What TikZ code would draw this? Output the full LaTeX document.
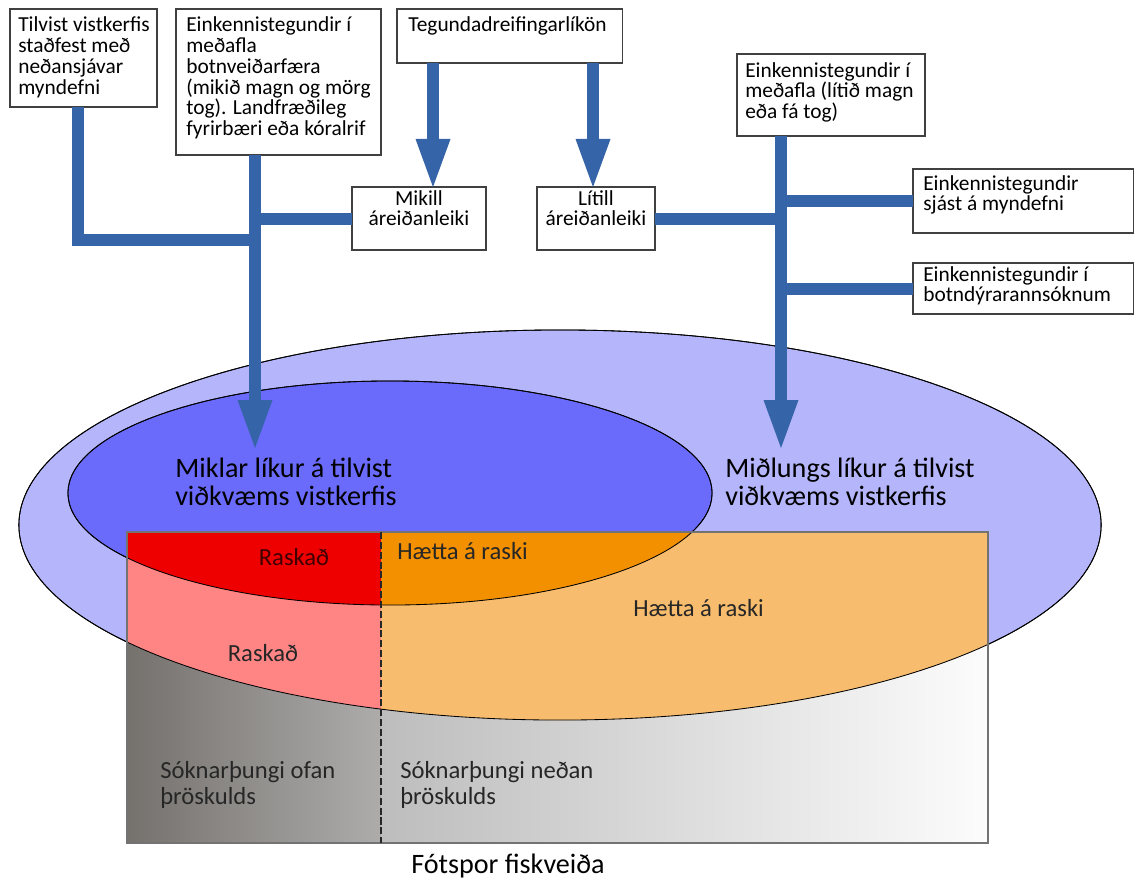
\documentclass[tikz,border=0pt]{standalone}
\usepackage{fontspec}
\setmainfont{Carlito}
\usetikzlibrary{arrows.meta}
\definecolor{flow}{HTML}{3565A8}
\definecolor{outerfill}{HTML}{B4B5FB}
\definecolor{innerfill}{HTML}{6B6BFB}
\definecolor{redfill}{HTML}{EE0000}
\definecolor{orangefill}{HTML}{F39000}
\definecolor{lorange}{HTML}{F7BC6D}
\definecolor{pinkfill}{HTML}{FF8585}
\definecolor{grayA}{HTML}{75716D}
\definecolor{grayB}{HTML}{ADACAB}
\definecolor{grayC}{HTML}{BDBDBD}
\definecolor{grayD}{HTML}{FCFCFC}
\newcommand\hs{\rule{0pt}{1em}}
\begin{document}
\begin{tikzpicture}[x=0.025cm,y=-0.025cm,
  box/.style={draw=black!75,line width=0.8pt,fill=white,inner sep=0pt,outer sep=0pt,anchor=north west},
  btxt/.style={inner sep=0pt,anchor=north west,align=left,font=\fontsize{15.2}{14.8}\selectfont},
  ctxt/.style={inner sep=0pt,anchor=north,align=center,font=\fontsize{15.2}{14.8}\selectfont},
  flowline/.style={draw=flow,line width=0.3cm},
  flowarr/.style={flowline,-{Triangle[width=0.875cm,length=1.2cm,line width=0pt]}},
  bigtxt/.style={inner sep=0pt,anchor=north west,align=left,font=\fontsize{20}{20}\selectfont},
  midtxt/.style={inner sep=0pt,text=black!85,font=\fontsize{17.5}{18.5}\selectfont},
  outline/.style={draw=black,line width=0.6pt},
]
\useasboundingbox (0,0) rectangle (1144,884);
\fill[white] (0,0) rectangle (1144,884);

% ellipses
\path[fill=outerfill,outline] (560,525) ellipse [x radius=13.525cm, y radius=4.875cm];
\path[fill=innerfill,outline] (390,493) ellipse [x radius=8.05cm, y radius=2.8cm];

% footprint rectangle
\shade[left color=grayA,right color=grayB] (127,532) rectangle (381,843);
\shade[left color=grayC,right color=grayD] (381,532) rectangle (988,843);
\begin{scope}
  \clip (560,525) ellipse [x radius=13.525cm, y radius=4.875cm];
  \fill[pinkfill] (127,532) rectangle (381,843);
  \fill[lorange] (381,532) rectangle (988,843);
\end{scope}
\begin{scope}
  \clip (390,493) ellipse [x radius=8.05cm, y radius=2.8cm];
  \fill[redfill] (127,532) rectangle (381,843);
  \fill[orangefill] (381,532) rectangle (988,843);
\end{scope}
\path[outline] (560,525) ellipse [x radius=13.525cm, y radius=4.875cm];
\path[outline] (390,493) ellipse [x radius=8.05cm, y radius=2.8cm];
\draw[black!55,line width=0.8pt] (127,532) rectangle (988,843);
\draw[black!85,line width=0.8pt,dash pattern=on 5pt off 2pt] (381,532) -- (381,843);

% texts in ellipses and rectangle
\node[bigtxt] (tmik) at (175,449) {\hs Miklar líkur á tilvist\\viðkvæms vistkerfis};
\node[bigtxt] (tmid) at (725,449) {\hs Miðlungs líkur á tilvist\\viðkvæms vistkerfis};
\node[midtxt,anchor=base,text=black!75!red] (r1) at (294,565) {Raskað};
\node[midtxt,anchor=base west] (h1) at (397,559) {Hætta á raski};
\node[midtxt,anchor=base west] (h2) at (633,616) {Hætta á raski};
\node[midtxt,anchor=base] (r2) at (263,661) {Raskað};
\node[midtxt,anchor=north west,align=left] (s1) at (160,754) {\hs Sóknarþungi ofan\\þröskulds};
\node[midtxt,anchor=north west,align=left] (s2) at (400,754) {\hs Sóknarþungi neðan\\þröskulds};
\node[inner sep=0pt,anchor=base,font=\fontsize{20}{20}\selectfont] (fot) at (508,873) {Fótspor fiskveiða};

% boxes
\node[box,minimum width=3.675cm,minimum height=2.45cm] (b1) at (10,9) {};
\node[box,minimum width=5.125cm,minimum height=3.65cm] (b2) at (176,9) {};
\node[box,minimum width=5.625cm,minimum height=1.35cm] (teg) at (397,9) {};
\node[box,minimum width=3.35cm,minimum height=1.575cm] (mik) at (352,187) {};
\node[box,minimum width=2.95cm,minimum height=1.575cm] (lit) at (537,187) {};
\node[box,minimum width=4.7cm,minimum height=2.05cm] (rt) at (737,54) {};
\node[box,minimum width=5.5cm,minimum height=1.6cm] (sja) at (913,169) {};
\node[box,minimum width=5.5cm,minimum height=1.275cm] (bot) at (913,263) {};

% connector coordinates
\coordinate (x1) at (78,240);
\coordinate (tipL) at (255,448);
\coordinate (tipR) at (781,448);
\coordinate (xa) at (433,0);
\coordinate (xb) at (593,0);

% connectors
\draw[flowline] (x1 |- b1.south) -- (x1) -- (x1 -| tipL);
\draw[flowarr] (tipL |- b2.south) -- (tipL);
\draw[flowline] (mik.west -| tipL) -- (mik.west);
\draw[flowarr] (xa |- teg.south) -- (xa |- mik.north);
\draw[flowarr] (xb |- teg.south) -- (xb |- lit.north);
\draw[flowline] (lit.east) -- (lit.east -| tipR);
\draw[flowarr] (tipR |- rt.south) -- (tipR);
\draw[flowline] (sja.west -| tipR) -- (sja.west);
\draw[flowline] (bot.west -| tipR) -- (bot.west);

% box texts
\node[btxt] (t1) at (18,10) {\hs Tilvist vistkerfis\\staðfest með\\neðansjávar\\myndefni};
\node[btxt] (t2) at (186,10) {\hs Einkennistegundir í\\meðafla\\botnveiðarfæra\\(mikið magn og mörg\\tog). Landfræðileg\\fyrirbæri eða kóralrif};
\node[btxt] (t3) at (408,9.5) {\hs Tegundadreifingarlíkön};
\node[ctxt] (t4) at (419,183.5) {\hs Mikill\\áreiðanleiki};
\node[ctxt] (t5) at (596,183.5) {\hs Lítill\\áreiðanleiki};
\node[btxt] (t6) at (745,55.5) {\hs Einkennistegundir í\\meðafla (lítið magn\\eða fá tog)};
\node[btxt] (t7) at (923,168.5) {\hs Einkennistegundir\\sjást á myndefni};
\node[btxt] (t8) at (923,259.5) {\hs Einkennistegundir í\\botndýrarannsóknum};
\end{tikzpicture}
\end{document}
